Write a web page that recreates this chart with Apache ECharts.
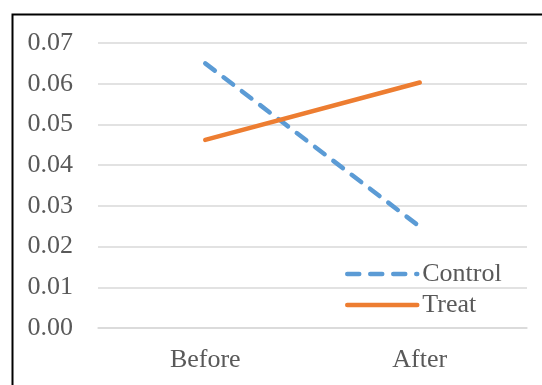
<!DOCTYPE html>
<html><head><meta charset="utf-8">
<script src="https://cdn.jsdelivr.net/npm/echarts@6/dist/echarts.min.js"></script>
<style>html,body{margin:0;padding:0;background:#fff}#c{width:542px;height:385px}</style>
</head><body><div id="c"></div>
<script>
const categories = ['Before', 'After'];
const controlValues = [0.065, 0.0249];
const treatValues = [0.0462, 0.0603];
const yTicks = [0, 0.01, 0.02, 0.03, 0.04, 0.05, 0.06, 0.07];

const font = 'Liberation Serif, Times New Roman, serif';
const dash = [12, 11];
const chart = echarts.init(document.getElementById('c'), null, {renderer: 'canvas'});
chart.setOption({
  animation: false,
  backgroundColor: '#fff',
  graphic: [{
    type: 'rect', left: 10, top: 12, z: 100,
    shape: {x: 0, y: 0, width: 540, height: 400},
    style: {fill: 'none', stroke: '#000', lineWidth: 2}
  }],
  grid: {left: 98, right: 15, top: 43, bottom: 57},
  legend: {
    orient: 'vertical', left: 345, top: 261, padding: 0,
    itemWidth: 70, itemHeight: 14, itemGap: 5,
    itemStyle: {opacity: 0},
    textStyle: {fontFamily: font, fontSize: 26, color: '#595959', lineHeight: 26, padding: [0,0,0,0]},
    data: [
      {name: 'Control', lineStyle: {width: 4.5, type: dash, cap: 'round', color: '#5b9bd5'}},
      {name: 'Treat', lineStyle: {width: 4.5, cap: 'round', color: '#ed7d31'}}
    ]
  },
  xAxis: {
    type: 'category', data: categories, boundaryGap: true,
    axisLine: {lineStyle: {color: '#d9d9d9', width: 1.5}},
    axisTick: {show: false},
    axisLabel: {fontFamily: font, fontSize: 26, color: '#595959', margin: 19}
  },
  yAxis: {
    type: 'value', min: yTicks[0], max: yTicks[yTicks.length-1], interval: 0.01,
    axisLine: {show: false}, axisTick: {show: false},
    splitLine: {lineStyle: {color: '#d9d9d9', width: 1.5}},
    axisLabel: {fontFamily: font, fontSize: 26, color: '#595959', margin: 25,
      formatter: v => v.toFixed(2)}
  },
  series: [
    {name: 'Control', type: 'line', data: controlValues, symbol: 'none',
     color: '#5b9bd5',
     lineStyle: {color: '#5b9bd5', width: 4.5, type: dash, cap: 'round'}},
    {name: 'Treat', type: 'line', data: treatValues, symbol: 'none',
     color: '#ed7d31',
     lineStyle: {color: '#ed7d31', width: 4.5, cap: 'round'}}
  ]
});
</script></body></html>
